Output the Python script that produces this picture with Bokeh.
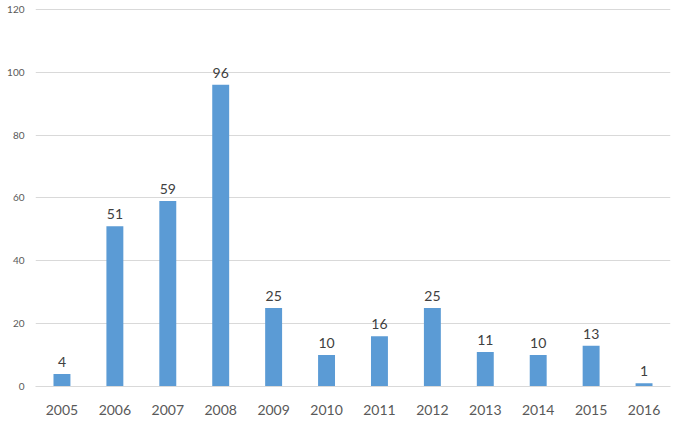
from bokeh.plotting import figure
from bokeh.models import ColumnDataSource, Range1d, FactorRange
from bokeh.core.properties import value
from bokeh.embed import file_html
from bokeh.resources import INLINE

years = ["2005", "2006", "2007", "2008", "2009", "2010", "2011", "2012", "2013", "2014", "2015", "2016"]
counts = [4, 51, 59, 96, 25, 10, 16, 25, 11, 10, 13, 1]
y_ticks = [0, 20, 40, 60, 80, 100, 120]

src = ColumnDataSource(dict(x=years, top=counts, lbl=[str(c) for c in counts]))

p = figure(width=676, height=421, output_backend="svg", toolbar_location=None,
           x_range=FactorRange(*years, range_padding=0), y_range=Range1d(0, 120.3),
           min_border_left=35, min_border_right=6, min_border_top=8, min_border_bottom=35)
p.outline_line_color = None
p.background_fill_color = "white"
p.border_fill_color = "white"

p.vbar(x="x", top="top", width=0.32, source=src, color="#5B9BD5", line_color=None)
p.text(x="x", y="top", text="lbl", source=src, text_align="center", text_baseline="bottom",
       y_offset=-7, text_font=value("Lato"), text_font_size="14px", text_color="#404040")

p.xgrid.grid_line_color = None
p.ygrid.grid_line_color = "#d9d9d9"
p.ygrid.ticker = y_ticks

p.yaxis.ticker = y_ticks
p.yaxis.axis_line_color = None
p.yaxis.major_tick_line_color = None
p.yaxis.minor_tick_line_color = None
p.yaxis.major_label_text_font = "Lato"
p.yaxis.major_label_text_font_size = "10px"
p.yaxis.major_label_text_color = "#595959"
p.yaxis.major_label_standoff = 5

p.xaxis.axis_line_color = "#d9d9d9"
p.xaxis.major_tick_line_color = None
p.xaxis.minor_tick_line_color = None
p.xaxis.major_label_text_font = "Lato"
p.xaxis.major_label_text_font_size = "14px"
p.xaxis.major_label_text_color = "#595959"
p.xaxis.major_label_standoff = 12

open("out.html", "w").write(file_html(p, INLINE))
